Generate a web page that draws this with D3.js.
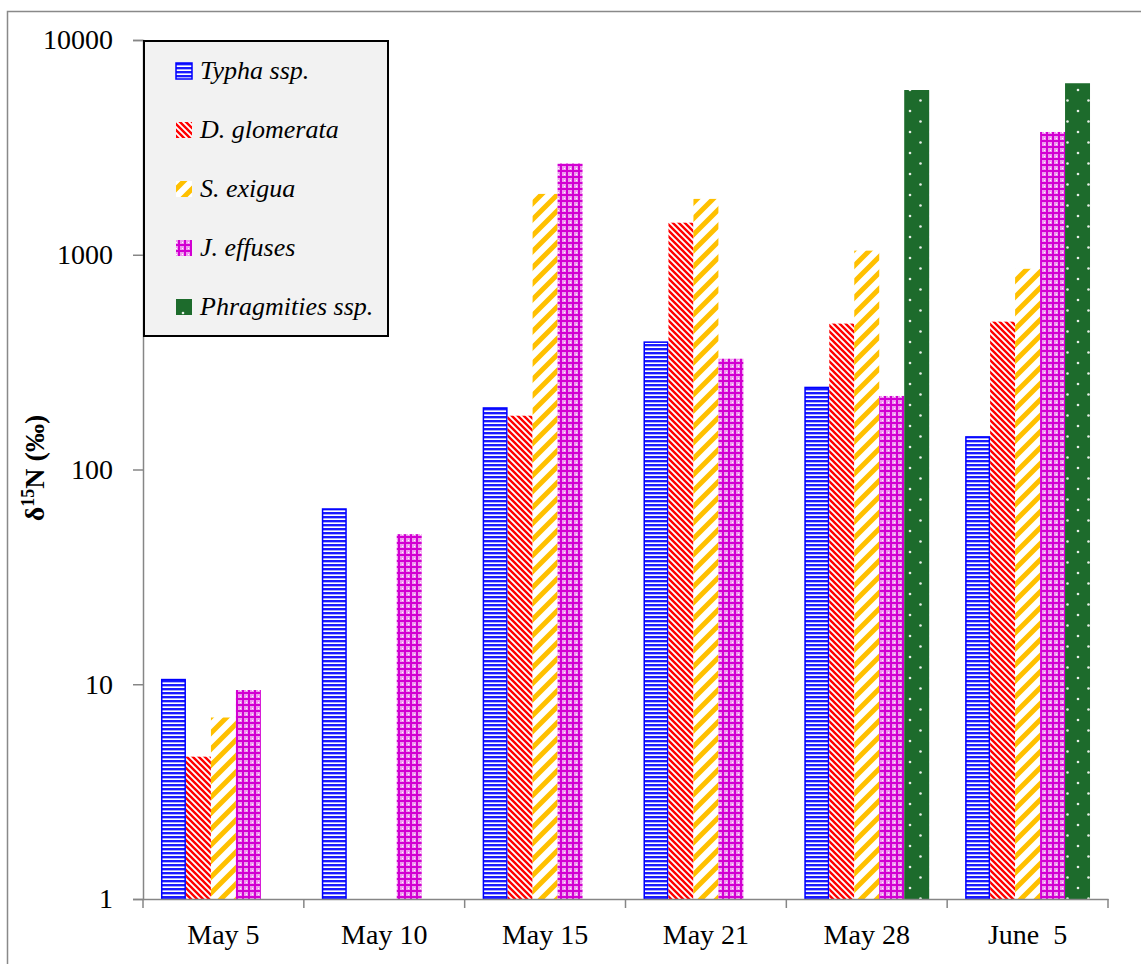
<!DOCTYPE html>
<html>
<head>
<meta charset="utf-8">
<script src="https://cdn.jsdelivr.net/npm/d3@7"></script>
<style>
  html, body { margin: 0; padding: 0; background: #fff; }
  svg { display: block; }
</style>
</head>
<body>
<svg id="chart" width="1141" height="964"></svg>
<script>
// Sampling dates
const categories = ["May 5", "May 10", "May 15", "May 21", "May 28", "June  5"];

// Species shown in the legend
const speciesNames = ["Typha ssp.", "D. glomerata", "S. exigua", "J. effuses", "Phragmities ssp."];

// δ15N (‰) per species, one value per date (null = not sampled)
const typha       = [10.6, 66, 195, 395, 243, 143];
const glomerata   = [4.6, null, 178, 1410, 478, 488];
const exigua      = [7.0, null, 1920, 1820, 1045, 860];
const effuses     = [9.4, 50, 2660, 328, 220, 3730];
const phragmities = [null, null, null, null, 5850, 6290];

const yTicks = [1, 10, 100, 1000, 10000];

const seriesValues = [typha, glomerata, exigua, effuses, phragmities];

const serif = "'Liberation Serif', 'DejaVu Serif', serif";

const svg = d3.select("#chart");
const defs = svg.append("defs");

// ---- fill patterns -------------------------------------------------------
// horizontal blue stripes
const pTypha = defs.append("pattern").attr("id", "p-typha")
  .attr("patternUnits", "userSpaceOnUse").attr("width", 8).attr("height", 4);
pTypha.append("rect").attr("width", 8).attr("height", 4).attr("fill", "#ffffff");
pTypha.append("rect").attr("y", 0).attr("width", 8).attr("height", 2).attr("fill", "#1a1aff");
pTypha.append("rect").attr("y", 2).attr("width", 8).attr("height", 1).attr("fill", "#a9abff");

// narrow red "\" diagonals
const pGlom = defs.append("pattern").attr("id", "p-glom")
  .attr("patternUnits", "userSpaceOnUse").attr("width", 6).attr("height", 6);
pGlom.append("rect").attr("width", 6).attr("height", 6).attr("fill", "#ffffff");
pGlom.append("path").attr("d", "M-3,-3L9,9M-3,3L3,9M3,-3L9,3")
  .attr("stroke", "#ff0000").attr("stroke-width", 2.4);

// wide yellow "/" diagonals
const pExig = defs.append("pattern").attr("id", "p-exig")
  .attr("patternUnits", "userSpaceOnUse").attr("width", 16).attr("height", 16);
pExig.append("rect").attr("width", 16).attr("height", 16).attr("fill", "#ffffff");
pExig.append("path").attr("d", "M-4,4L4,-4M0,16L16,0M12,20L20,12")
  .attr("stroke", "#ffc000").attr("stroke-width", 5);

// magenta plaid
const pEff = defs.append("pattern").attr("id", "p-eff")
  .attr("patternUnits", "userSpaceOnUse").attr("width", 6).attr("height", 6);
pEff.append("rect").attr("width", 6).attr("height", 6).attr("fill", "#ee9aee");
pEff.append("rect").attr("x", 2).attr("y", 0).attr("width", 2).attr("height", 6).attr("fill", "#d200d2");
pEff.append("rect").attr("x", 0).attr("y", 2).attr("width", 6).attr("height", 2).attr("fill", "#d200d2");
pEff.append("rect").attr("x", 0).attr("y", 0).attr("width", 1).attr("height", 1).attr("fill", "#ffffff");

// dark green with white dots
const pPhr = defs.append("pattern").attr("id", "p-phr")
  .attr("patternUnits", "userSpaceOnUse").attr("width", 21).attr("height", 21)
  .attr("x", 4).attr("y", 3);
pPhr.append("rect").attr("width", 21).attr("height", 21).attr("fill", "#1d6b2c");
pPhr.append("circle").attr("cx", 3).attr("cy", 3).attr("r", 1.3).attr("fill", "#e8efe8");
pPhr.append("circle").attr("cx", 13.5).attr("cy", 13.5).attr("r", 1.3).attr("fill", "#e8efe8");

const fills = ["url(#p-typha)", "url(#p-glom)", "url(#p-exig)", "url(#p-eff)", "url(#p-phr)"];
const strokes = ["#0000ff", "none", "none", "none", "none"];

// ---- frame -------------------------------------------------------------
svg.append("path").attr("d", "M7.5,964V11.5H1141")
  .attr("fill", "none").attr("stroke", "#898989").attr("stroke-width", 1.5);

// ---- scales --------------------------------------------------------------
const plot = { left: 143, right: 1108, top: 40, bottom: 899 };

const x0 = d3.scaleBand().domain(categories).range([plot.left, plot.right]).padding(0);
const x1 = d3.scaleBand().domain(d3.range(speciesNames.length))
  .range([0, x0.bandwidth()]).paddingInner(0).paddingOuter(0.72);
const y = d3.scaleLog().domain([1, 10000]).range([plot.bottom, plot.top]);

// ---- bars ----------------------------------------------------------------
const rows = [];
categories.forEach((c, ci) => {
  seriesValues.forEach((vals, si) => {
    if (vals[ci] != null) rows.push({ c, si, v: vals[ci] });
  });
});

svg.append("g").selectAll("rect").data(rows).join("rect")
  .attr("x", d => x0(d.c) + x1(d.si) + (d.si === 0 ? 0.75 : 0))
  .attr("y", d => y(d.v) + (d.si === 0 ? 0.75 : 0))
  .attr("width", d => x1.bandwidth() - (d.si === 0 ? 1.5 : 0))
  .attr("height", d => plot.bottom - y(d.v) - (d.si === 0 ? 0.75 : 0))
  .attr("fill", d => fills[d.si])
  .attr("stroke", d => strokes[d.si])
  .attr("stroke-width", 1.5);

// ---- axes ----------------------------------------------------------------
const yAxis = d3.axisLeft(y).tickValues(yTicks).tickFormat(d3.format("d"))
  .tickSize(10).tickPadding(20);
const gy = svg.append("g").attr("transform", `translate(${plot.left},0)`).call(yAxis);
gy.select(".domain").attr("stroke", "#868686").attr("stroke-width", 1.5);
gy.selectAll(".tick line").attr("stroke", "#868686").attr("stroke-width", 1.5);
gy.selectAll(".tick text")
  .attr("font-family", serif)
  .attr("font-size", 28).attr("fill", "#000");

// category boundary ticks below the baseline
const xAxis = d3.axisBottom(x0).tickSize(0).tickPadding(25);
const gx = svg.append("g").attr("transform", `translate(0,${plot.bottom})`).call(xAxis);
gx.select(".domain").attr("stroke", "#868686").attr("stroke-width", 1.5);
gx.selectAll(".tick text")
  .attr("font-family", serif)
  .attr("font-size", 28).attr("fill", "#000").style("white-space", "pre");
const bounds = categories.map(c => x0(c)).concat([plot.right]);
gx.selectAll("line.sep").data(bounds).join("line").attr("class", "sep")
  .attr("x1", d => d).attr("x2", d => d).attr("y1", 0).attr("y2", 9)
  .attr("stroke", "#868686").attr("stroke-width", 1.5);

// y-axis title
const yt = svg.append("text")
  .attr("transform", "translate(44,468) rotate(-90)")
  .attr("text-anchor", "middle")
  .attr("font-family", serif)
  .attr("font-weight", "bold").attr("font-size", 28).attr("fill", "#000");
yt.append("tspan").text("δ");
yt.append("tspan").attr("font-size", 18).attr("dy", -10).text("15");
yt.append("tspan").attr("dy", 10).text("N (‰)");

// ---- legend --------------------------------------------------------------
const lg = svg.append("g");
lg.append("rect").attr("x", 144).attr("y", 41).attr("width", 244).attr("height", 295)
  .attr("fill", "#f2f2f2").attr("stroke", "#000").attr("stroke-width", 2);
const items = lg.selectAll("g.item").data(speciesNames).join("g").attr("class", "item")
  .attr("transform", (d, i) => `translate(176,${71 + i * 59})`);
items.append("rect").attr("x", 0).attr("y", -8).attr("width", 16).attr("height", 16)
  .attr("fill", (d, i) => fills[i])
  .attr("stroke", (d, i) => strokes[i]).attr("stroke-width", 1.5);
items.append("text").attr("x", 24).attr("y", 8)
  .attr("font-family", serif)
  .attr("font-style", "italic").attr("font-size", 26).attr("fill", "#000")
  .text(d => d);
</script>
</body>
</html>
